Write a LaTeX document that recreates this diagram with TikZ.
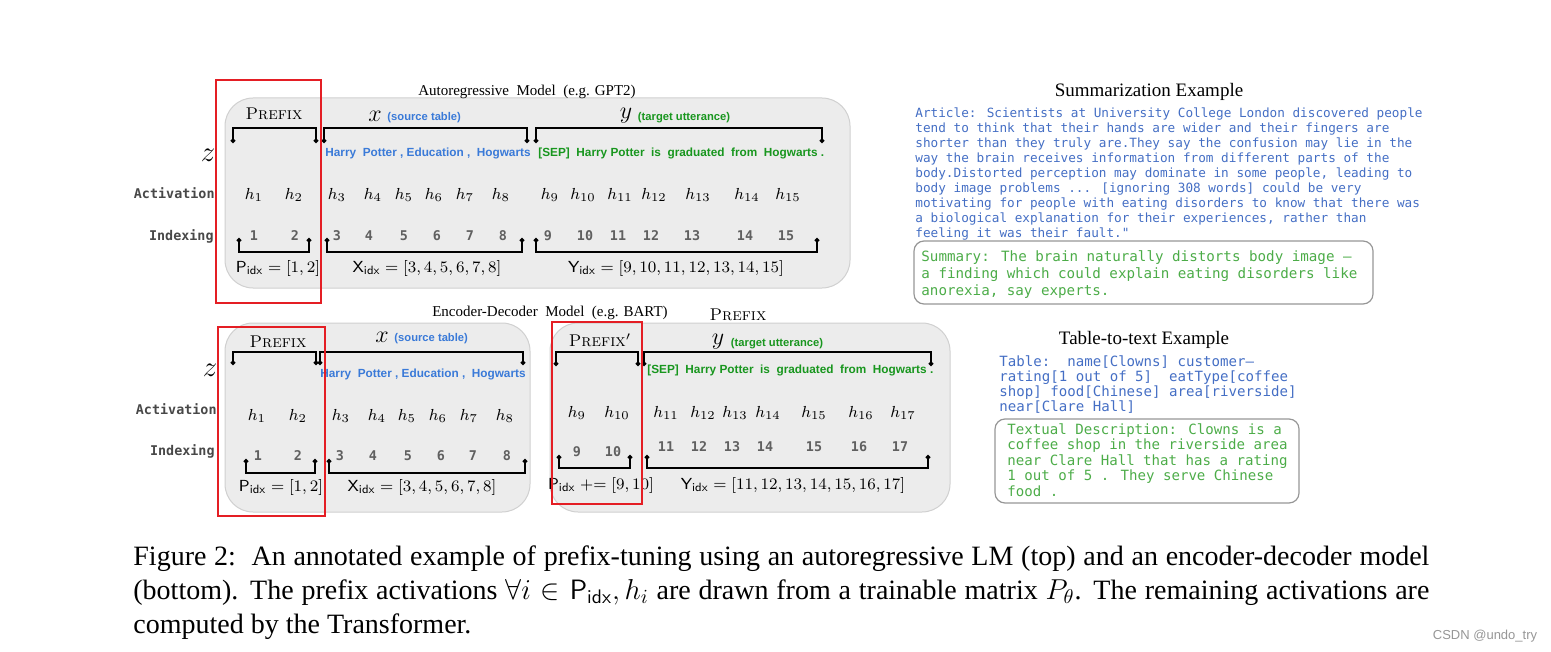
\documentclass[tikz,border=0pt]{standalone}
\usepackage{fontspec}
\newfontfamily\timesfont{Liberation Serif}
\newfontfamily\tokfont{Liberation Sans}
\newfontfamily\codefont{DejaVu Sans Mono}
\usetikzlibrary{positioning, arrows.meta}

\definecolor{panelfill}{RGB}{236,236,236}
\definecolor{paneledge}{RGB}{208,208,208}
\definecolor{prefixred}{RGB}{228,30,36}
\definecolor{tokblue}{RGB}{58,122,216}
\definecolor{tokgreen}{RGB}{24,150,30}
\definecolor{artblue}{RGB}{68,110,196}
\definecolor{sumgreen}{RGB}{76,172,72}
\definecolor{idxgray}{RGB}{96,96,96}
\definecolor{rowgray}{RGB}{72,72,72}
\definecolor{framegray}{RGB}{150,150,150}

\begin{document}
\begin{tikzpicture}[x=0.5pt, y=-0.5pt,
        panel/.style={fill=panelfill, draw=paneledge, line width=0.5pt, rounded corners=14pt},
        prefixbox/.style={draw=prefixred, line width=1pt},
        brace/.style={line width=1.1pt, {Circle[length=2.2pt]}-{Circle[length=2.2pt]}},
        hval/.style={inner sep=0pt, font=\fontsize{8.2}{9}\selectfont},
        idxval/.style={inner sep=0pt, text=idxgray, font=\codefont\bfseries\fontsize{6.7}{7}\selectfont},
        rowname/.style={inner sep=0pt, anchor=east, text=rowgray, font=\codefont\bfseries\fontsize{6.7}{7}\selectfont},
        srctok/.style={inner sep=0pt, anchor=west, text=tokblue, font=\tokfont\bfseries\fontsize{5.9}{6}\selectfont},
        tgttok/.style={srctok, text=tokgreen},
        srcnote/.style={inner sep=0pt, text=tokblue, font=\tokfont\bfseries\fontsize{5.6}{6}\selectfont},
        tgtnote/.style={srcnote, text=tokgreen},
        seqvar/.style={inner sep=0pt, font=\fontsize{12}{12}\selectfont},
        zvar/.style={inner sep=0pt, font=\fontsize{15}{15}\selectfont},
        prefixlab/.style={inner sep=0pt, font=\fontsize{8.5}{9}\selectfont\scshape},
        idxset/.style={inner sep=0pt, font=\fontsize{8}{9}\selectfont},
        paneltitle/.style={inner sep=0pt, font=\timesfont\fontsize{7.5}{9}\selectfont},
        extitle/.style={inner sep=0pt, font=\timesfont\fontsize{9.5}{11}\selectfont},
        article/.style={inner sep=0pt, anchor=north west, align=left, text=artblue, font=\codefont\fontsize{6.35}{7.5}\selectfont},
        answer/.style={inner sep=0pt, anchor=north west, align=left, text=sumgreen, font=\codefont\fontsize{7.1}{8.5}\selectfont},
        answerbox/.style={draw=framegray, line width=0.6pt, rounded corners=5pt}
    ]
    \useasboundingbox (0,0) rectangle (1551,652);

    % autoregressive model (top)
    \draw[panel] (225,98) rectangle (850,288);
    \node[paneltitle] (artitle) at (527,92) {Autoregressive\ \ Model\ \ (e.g. GPT2)};
    \node[prefixlab] (arprefix) at (274,114) {Prefix};
    \node[seqvar] (arx) at (375,116) {$x$};
    \node[srcnote, right=2.5pt of arx, yshift=-1pt] (arxnote) {(source table)};
    \node[seqvar] (ary) at (626,116) {$y$};
    \node[tgtnote, right=2.5pt of ary, yshift=-1pt] (arynote) {(target utterance)};
    \node[zvar] (arz) at (208,155) {$z$};
    \draw[brace] (233,143) |- (316,128) -- (316,143);
    \draw[brace] (324,143) |- (527,128) -- (527,143);
    \draw[brace] (536,143) |- (822,128) -- (822,143);
    \node[srctok] (arsrc) at (325,153) {Harry\ \ Potter , Education ,\ \ Hogwarts};
    \node[tgttok] (artgt) at (538,153) {[SEP]\ \ Harry Potter\ \ is\ \ graduated\ \ from\ \ Hogwarts .};
    \node[rowname] (aract) at (215,193) {Activation};
    \node[rowname] (arind) at (214,236) {Indexing};
    \foreach \i/\x in {1/254,2/294,3/337,4/373,5/404,6/434,7/465,8/501,9/550,10/583,11/620,12/654,13/698,14/747,15/788}
        \node[hval] (arh\i) at (\x,195) {$h_{\i}$};
    \foreach \i/\x in {1/254,2/295,3/337,4/369,5/404,6/437,7/470,8/503,9/548,10/585,11/618,12/651,13/692,14/745,15/786}
        \node[idxval] (arn\i) at (\x,236) {\i};
    \draw[brace] (239,238) |- (309,252) -- (309,238);
    \draw[brace] (327,238) |- (522,252) -- (522,238);
    \draw[brace] (536,238) |- (817,252) -- (817,238);
    \node[idxset] (arpidx) at (278,268) {$\mathsf{P}_{\mathsf{idx}} = [1,2]$};
    \node[idxset] (arxidx) at (427,268) {$\mathsf{X}_{\mathsf{idx}} = [3,4,5,6,7,8]$};
    \node[idxset] (aryidx) at (676,268) {$\mathsf{Y}_{\mathsf{idx}} = [9,10,11,12,13,14,15]$};
    \draw[prefixbox] (216,80) rectangle (321,303);

    % encoder-decoder model (bottom)
    \draw[panel] (225,323) rectangle (530,512);
    \draw[panel] (550,323) rectangle (950,512);
    \node[paneltitle] (edtitle) at (550,313) {Encoder-Decoder\ \ Model\ \ (e.g. BART)};
    \node[prefixlab] (edtop) at (738,315) {Prefix};
    \node[prefixlab] (edprefix) at (278,342) {Prefix};
    \node[prefixlab] (edprefix2) at (600,340) {Prefix$'$};
    \node[seqvar] (edx) at (382,337) {$x$};
    \node[srcnote, right=2.5pt of edx, yshift=-1pt] (edxnote) {(source table)};
    \node[seqvar] (edy) at (718,342) {$y$};
    \node[tgtnote, right=3pt of edy, yshift=-1pt] (edynote) {(target utterance)};
    \node[zvar] (edz) at (210,370) {$z$};
    \draw[brace] (233,365) |- (316,352) -- (316,365);
    \draw[brace] (320,365) |- (523,352) -- (523,365);
    \draw[brace] (556,366) |- (638,352) -- (638,366);
    \draw[brace] (644,366) |- (931,352) -- (931,366);
    \node[srctok] (edsrc) at (320,374) {Harry\ \ Potter , Education ,\ \ Hogwarts};
    \node[tgttok] (edtgt) at (647,370) {[SEP]\ \ Harry Potter\ \ is\ \ graduated\ \ from\ \ Hogwarts .};
    \node[rowname] (edact) at (217,409) {Activation};
    \node[rowname] (edind) at (215,451) {Indexing};
    \foreach \i/\x in {1/257,2/298,3/341,4/377,5/407,6/438,7/469,8/505}
        \node[hval] (edh\i) at (\x,416) {$h_{\i}$};
    \foreach \i/\x in {9/577,10/617,11/666,12/703,13/735,14/768,15/814,16/861,17/903}
        \node[hval] (edh\i) at (\x,413) {$h_{\i}$};
    \foreach \i/\x in {1/258,2/298,3/340,4/373,5/408,6/441,7/473,8/507}
        \node[idxval] (edn\i) at (\x,456) {\i};
    \foreach \i/\x in {9/577,10/613}
        \node[idxval] (edn\i) at (\x,452) {\i};
    \foreach \i/\x in {11/666,12/699,13/732,14/765,15/814,16/859,17/900}
        \node[idxval] (edn\i) at (\x,447) {\i};
    \draw[brace] (246,459) |- (315,473) -- (315,459);
    \draw[brace] (329,459) |- (525,473) -- (525,459);
    \draw[brace] (559,455) |- (630,468) -- (630,455);
    \draw[brace] (647,455) |- (928,468) -- (928,455);
    \node[idxset] (edpidx) at (281,487) {$\mathsf{P}_{\mathsf{idx}} = [1,2]$};
    \node[idxset] (edxidx) at (422,487) {$\mathsf{X}_{\mathsf{idx}} = [3,4,5,6,7,8]$};
    \node[idxset] (edpidx2) at (601,485) {$\mathsf{P}_{\mathsf{idx}} \mathrel{+}\mathrel{=} [9,10]$};
    \node[idxset] (edyidx) at (793,485) {$\mathsf{Y}_{\mathsf{idx}} = [11,12,13,14,15,16,17]$};
    \draw[prefixbox] (218,327) rectangle (325,516);
    \draw[prefixbox] (552,322) rectangle (642,504);

    % examples on the right
    \node[extitle] (sumtitle) at (1149,92) {Summarization Example};
    \node[article] (sumart) at (915,107) {Article: Scientists at University College London discovered people\\
        tend to think that their hands are wider and their fingers are\\
        shorter than they truly are.They say the confusion may lie in the\\
        way the brain receives information from different parts of the\\
        body.Distorted perception may dominate in some people, leading to\\
        body image problems ... [ignoring 308 words] could be very\\
        motivating for people with eating disorders to know that there was\\
        a biological explanation for their experiences, rather than\\
        feeling it was their fault."};
    \draw[answerbox] (914,241) rectangle (1373,304);
    \node[answer] (sumans) at (921,250) {Summary: The brain naturally distorts body image –\\
        a finding which could explain eating disorders like\\
        anorexia, say experts.};

    \node[extitle] (tabtitle) at (1144,340) {Table-to-text Example};
    \node[article, font=\codefont\fontsize{7.05}{7.5}\selectfont] (tabtab) at (999,355) {Table:\ \ name[Clowns] customer–\\
        rating[1 out of 5]\ \ eatType[coffee\\
        shop] food[Chinese] area[riverside]\\
        near[Clare Hall]};
    \draw[answerbox] (995,419) rectangle (1299,503);
    \node[answer, font=\codefont\fontsize{7.05}{7.75}\selectfont] (tabans) at (1007,423) {Textual Description: Clowns is a\\
        coffee shop in the riverside area\\
        near Clare Hall that has a rating\\
        1 out of 5 . They serve Chinese\\
        food .};

    % caption
    \node[inner sep=0pt, anchor=base west, text width=648pt, align=justify,
          font=\timesfont\fontsize{14}{17}\selectfont] (caption) at (133,565)
        {\hyphenpenalty=10000 Figure 2:\ \ An annotated example of prefix-tuning using an autoregressive LM (top) and an encoder-decoder model\linebreak
         (bottom). The prefix activations $\forall i \in \mathsf{P}_{\mathsf{idx}}, h_i$ are drawn from a trainable matrix $P_\theta$. The remaining activations are\linebreak
         computed by the Transformer.};
    \node[inner sep=0pt, text=framegray, font=\tokfont\fontsize{6.5}{7}\selectfont] (mark) at (1485,636) {CSDN @undo\_try};
\end{tikzpicture}
\end{document}
